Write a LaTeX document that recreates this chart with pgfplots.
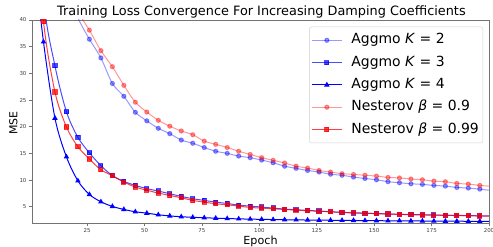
\documentclass[border=0pt]{standalone}
\usepackage{fontspec}
\setmainfont{DejaVu Sans}
\usepackage{pgfplots}
\usepackage{pgfplotstable}
\pgfplotsset{compat=1.18}

\pgfplotstableread{
epoch k2 k3 k4 n9 n99
1 90 75 55 95 65
6 70 44 35.9 75 39.7
11 55 31.4 21.6 60 26.5
16 46 22.8 14.35 49 19.95
21 40.4 18.0 9.85 41.8 16.25
26 36.4 15.1 7.3 38.1 13.94
31 32.9 12.7 5.93 34.25 11.94
36 28.1 10.85 5.06 31.25 10.8
41 25.7 9.75 4.5 27.75 9.62
46 22.7 9.0 4.06 24.6 8.69
51 21.1 8.4 3.8 22.75 8.1
56 19.7 7.94 3.5 21.2 7.56
61 18.7 7.44 3.28 20.1 7.12
66 17.5 6.94 3.13 19.2 6.68
71 16.9 6.5 3.02 18.5 6.19
76 16.1 6.19 2.94 17.3 5.87
81 15.4 5.87 2.86 16.7 5.56
86 15.0 5.62 2.79 16.1 5.37
91 14.5 5.31 2.73 15.4 5.12
96 14.2 5.12 2.68 14.8 4.87
101 13.75 4.94 2.64 14.2 4.75
106 13.25 4.75 2.6 13.7 4.62
111 12.6 4.56 2.57 13.2 4.5
116 12.2 4.44 2.54 12.6 4.37
121 11.8 4.31 2.51 12.25 4.25
126 11.5 4.19 2.49 11.8 4.17
131 11.1 4.06 2.47 11.5 4.05
136 10.9 3.94 2.45 11.2 3.97
141 10.56 3.84 2.43 11.06 3.87
146 10.3 3.77 2.41 10.9 3.8
151 10.06 3.72 2.39 10.75 3.7
156 9.7 3.66 2.37 10.5 3.63
161 9.5 3.6 2.36 10.4 3.57
166 9.31 3.55 2.34 10.2 3.52
171 9.19 3.5 2.33 10.06 3.47
176 9.0 3.46 2.31 9.81 3.43
181 8.87 3.42 2.3 9.69 3.39
186 8.62 3.38 2.29 9.37 3.35
191 8.5 3.34 2.28 9.25 3.31
196 8.31 3.3 2.27 9.0 3.27
200 8.1 3.28 2.26 8.85 3.25
}\data

\begin{document}
\begin{tikzpicture}
\path[use as bounding box] (-32bp,-23.7bp) rectangle (461bp,223.3bp);
\begin{axis}[
  at={(0,0)}, anchor=south west,
  scale only axis, width=457bp, height=203.3bp,
  xmin=1, xmax=200, ymin=1.9, ymax=40,
  xtick={25,50,...,200}, ytick={5,10,...,40},
  tick align=outside, major tick length=3bp,
  xtick pos=bottom, ytick pos=left,
  axis line style={black!55, line width=0.8bp},
  tick style={black!55, line width=0.6bp},
  tick label style={font=\fontsize{5.5}{6}\selectfont, text=black!75},
  /pgf/number format/assume math mode=true,
  xticklabel style={yshift=1bp},
  yticklabel style={xshift=1bp},
  title={Training Loss Convergence For Increasing Damping Coefficients},
  every axis title/.style={at={(axis description cs:0.502,1)}, anchor=base, yshift=4.3bp, font=\fontsize{12.9}{15}\selectfont},
  xlabel={Epoch}, ylabel={MSE},
  every axis x label/.style={at={(axis description cs:0.5,-0.1067)}, anchor=base, font=\fontsize{11.2}{13}\selectfont},
  every axis y label/.style={at={(axis description cs:-0.0322,0.492)}, rotate=90, anchor=base, font=\fontsize{11}{13}\selectfont},
  legend style={at={(axis description cs:0.987,0.967)}, anchor=north east,
    draw=black!18, rounded corners=2bp, fill=white,
    font=\fontsize{14}{16}\selectfont, inner xsep=2bp, inner ysep=4.4bp,
    row sep=4.3bp,
    nodes={inner sep=2bp, text height=10.5bp, text depth=3.5bp},
    /tikz/every odd column/.append style={column sep=7bp}},
  legend cell align=left,
  legend image code/.code={\draw[#1, mark repeat=2, mark phase=2] plot coordinates {(0bp,0bp) (15bp,0bp) (30bp,0bp)};},
]
% K=2
\addplot[color=blue, opacity=0.4, line width=1bp, smooth, mark=*, mark size=2.1bp, skip coords between index={40}{41}] table[x=epoch, y=k2] {\data};
\addlegendentry{Aggmo \textit{K} = 2}
\addplot[forget plot, color=blue, opacity=0.4, line width=1bp, skip coords between index={0}{39}] table[x=epoch, y=k2] {\data};
% K=3
\addplot[color=blue, opacity=0.7, line width=1bp, smooth, mark=square*, mark size=2.1bp, skip coords between index={40}{41}] table[x=epoch, y=k3] {\data};
\addlegendentry{Aggmo \textit{K} = 3}
\addplot[forget plot, color=blue, opacity=0.7, line width=1bp, skip coords between index={0}{39}] table[x=epoch, y=k3] {\data};
% K=4
\addplot[color=blue, line width=1bp, smooth, mark=triangle*, mark size=2.2bp, skip coords between index={40}{41}] table[x=epoch, y=k4] {\data};
\addlegendentry{Aggmo \textit{K} = 4}
\addplot[forget plot, color=blue, line width=1bp, skip coords between index={0}{39}] table[x=epoch, y=k4] {\data};
% Nesterov 0.9
\addplot[color=red, opacity=0.4, line width=1bp, smooth, mark=*, mark size=2.1bp, skip coords between index={40}{41}] table[x=epoch, y=n9] {\data};
\addlegendentry{Nesterov \textit{β} = 0.9}
\addplot[forget plot, color=red, opacity=0.4, line width=1bp, skip coords between index={0}{39}] table[x=epoch, y=n9] {\data};
% Nesterov 0.99
\addplot[color=red, opacity=0.75, line width=1bp, smooth, mark=square*, mark size=2.1bp, skip coords between index={40}{41}] table[x=epoch, y=n99] {\data};
\addlegendentry{Nesterov \textit{β} = 0.99}
\addplot[forget plot, color=red, opacity=0.75, line width=1bp, skip coords between index={0}{39}] table[x=epoch, y=n99] {\data};
\end{axis}
\end{tikzpicture}
\end{document}
